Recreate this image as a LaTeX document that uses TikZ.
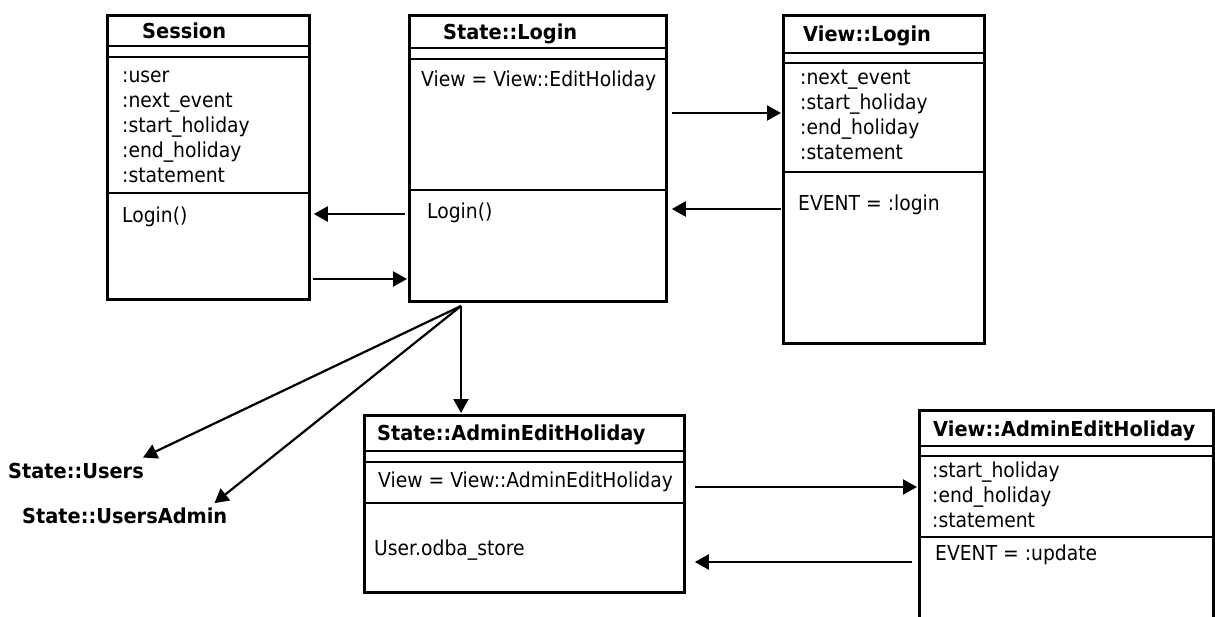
\documentclass[tikz,border=0pt]{standalone}
\usepackage{fontspec}
\setmainfont[FakeStretch=0.91, BoldFeatures={FakeStretch=0.94}]{DejaVu Sans}
\usetikzlibrary{arrows.meta}
\newcommand\umlsize{\fontsize{20.6}{25}\selectfont}
\tikzset{
  umlbox/.style={draw, line width=2.8pt, inner sep=0pt, anchor=north west},
  divline/.style={line width=2.4pt},
  arr/.style={line width=2.2pt, -{Triangle[length=14pt,width=15pt]}},
  txt/.style={anchor=base west, inner sep=0pt, font=\umlsize},
  ttl/.style={anchor=base west, inner sep=0pt, font=\umlsize\bfseries}
}
\begin{document}
\begin{tikzpicture}[x=1pt,y=-1pt]
\clip (0,0) rectangle (1215,617);
\fill[white] (0,0) rectangle (1215,617);

% Session
\node[umlbox, minimum width=202pt, minimum height=284pt] (session) at (106,14) {};
\draw[divline] (session.west |- 0,46) -- (session.east |- 0,46);
\draw[divline] (session.west |- 0,57) -- (session.east |- 0,57);
\draw[divline] (session.west |- 0,193) -- (session.east |- 0,193);
\node[ttl] (sessiont) at (142,39) {Session};
\node[txt] (sa1) at (122,83) {:user};
\node[txt] (sa2) at (122,108) {:next\_event};
\node[txt] (sa3) at (122,133) {:start\_holiday};
\node[txt] (sa4) at (122,158) {:end\_holiday};
\node[txt] (sa5) at (122,183) {:statement};
\node[txt] (sm1) at (122,223) {Login()};

% State::Login
\node[umlbox, minimum width=257pt, minimum height=286pt] (slogin) at (408,14) {};
\draw[divline] (slogin.west |- 0,48) -- (slogin.east |- 0,48);
\draw[divline] (slogin.west |- 0,59) -- (slogin.east |- 0,59);
\draw[divline] (slogin.west |- 0,190) -- (slogin.east |- 0,190);
\node[ttl] (slogint) at (443,40) {State::Login};
\node[txt] (sla1) at (421,87) {View = View::EditHoliday};
\node[txt] (slm1) at (427,219) {Login()};

% View::Login
\node[umlbox, minimum width=201pt, minimum height=328pt] (vlogin) at (782,14) {};
\draw[divline] (vlogin.west |- 0,53) -- (vlogin.east |- 0,53);
\draw[divline] (vlogin.west |- 0,63) -- (vlogin.east |- 0,63);
\draw[divline] (vlogin.west |- 0,172) -- (vlogin.east |- 0,172);
\node[ttl] (vlogint) at (803,42) {View::Login};
\node[txt] (vla1) at (800,85) {:next\_event};
\node[txt] (vla2) at (800,110) {:start\_holiday};
\node[txt] (vla3) at (800,135) {:end\_holiday};
\node[txt] (vla4) at (800,160) {:statement};
\node[txt] (vlm1) at (798,211) {EVENT = :login};

% State::AdminEditHoliday
\node[umlbox, minimum width=320pt, minimum height=177pt] (sadmin) at (363,414) {};
\draw[divline] (sadmin.west |- 0,451) -- (sadmin.east |- 0,451);
\draw[divline] (sadmin.west |- 0,462) -- (sadmin.east |- 0,462);
\draw[divline] (sadmin.west |- 0,503) -- (sadmin.east |- 0,503);
\node[ttl] (sadmint) at (377,440) {State::AdminEditHoliday};
\node[txt] (saa1) at (378,487) {View = View::AdminEditHoliday};
\node[txt] (sam1) at (374,555) {User.odba\_store};

% View::AdminEditHoliday
\node[umlbox, minimum width=294pt, minimum height=240pt] (vadmin) at (918,409) {};
\draw[divline] (vadmin.west |- 0,446) -- (vadmin.east |- 0,446);
\draw[divline] (vadmin.west |- 0,456) -- (vadmin.east |- 0,456);
\draw[divline] (vadmin.west |- 0,537) -- (vadmin.east |- 0,537);
\node[ttl] (vadmint) at (933,436) {View::AdminEditHoliday};
\node[txt] (vaa1) at (932,477) {:start\_holiday};
\node[txt] (vaa2) at (932,502) {:end\_holiday};
\node[txt] (vaa3) at (932,527) {:statement};
\node[txt] (vam1) at (935,560) {EVENT = :update};

% free labels
\node[ttl] (users) at (8,478) {State::Users};
\node[ttl] (usersadmin) at (22,523) {State::UsersAdmin};

% connectors
\draw[arr, shorten <=4pt, shorten >=1pt] (slogin.east |- 0,113) -- (vlogin.west |- 0,113);
\draw[arr, shorten <=1pt, shorten >=4pt] (vlogin.west |- 0,209) -- (slogin.east |- 0,209);
\draw[arr, shorten <=3pt, shorten >=3pt] (slogin.west |- 0,214) -- (session.east |- 0,214);
\draw[arr, shorten <=2pt, shorten >=1pt] (session.east |- 0,279) -- (slogin.west |- 0,279);
\coordinate (fan) at (461,306);
\draw[arr, shorten >=1pt] (fan) -- (sadmin.north -| fan);
\draw[arr] (fan) -- ([shift={(-1,-5)}]users.north east);
\draw[arr] (fan) -- ([shift={(-13,-4)}]usersadmin.north east);
\draw[arr, shorten <=9pt, shorten >=1pt] (sadmin.east |- 0,487) -- (vadmin.west |- 0,487);
\draw[arr, shorten <=6pt, shorten >=9pt] (vadmin.west |- 0,562) -- (sadmin.east |- 0,562);
\end{tikzpicture}
\end{document}
